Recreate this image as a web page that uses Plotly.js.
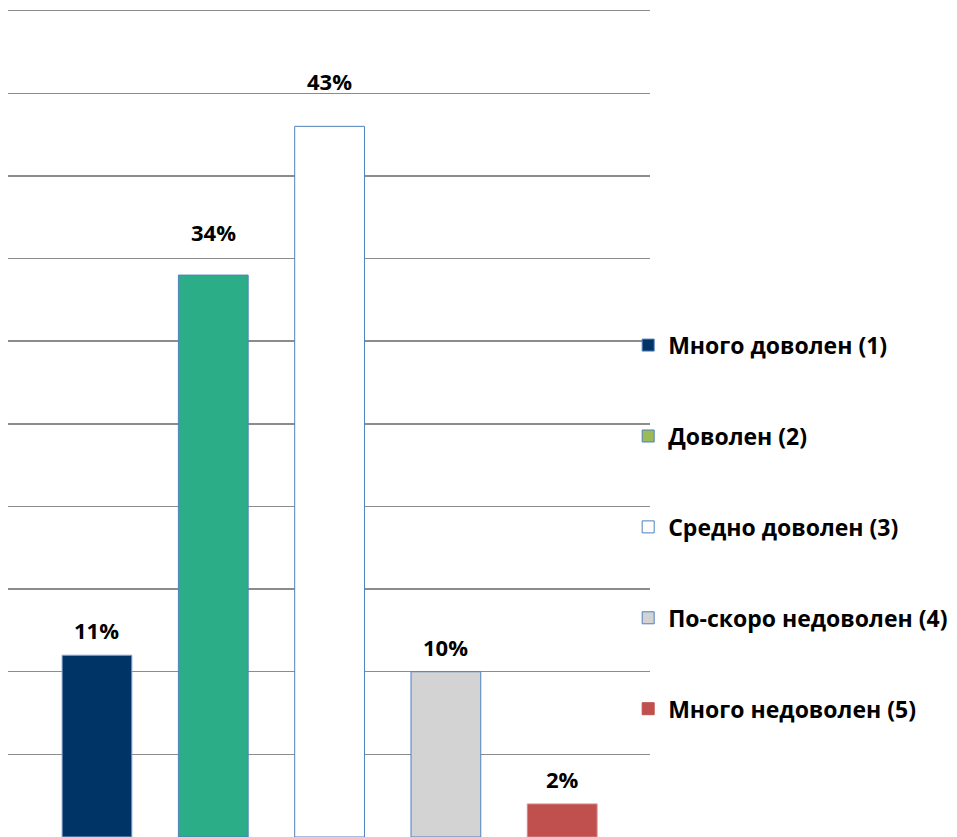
<!DOCTYPE html>
<html>
<head>
<meta charset="utf-8">
<script src="https://cdn.plot.ly/plotly-3.0.1.min.js"></script>
<style>
  html, body { margin: 0; padding: 0; background: #ffffff; }
  #chart { width: 957px; height: 837px; }
</style>
</head>
<body>
<div id="chart"></div>
<script>
// answers and their shares, in percent
const categories = [
  "Много доволен (1)",
  "Доволен (2)",
  "Средно доволен (3)",
  "По-скоро недоволен (4)",
  "Много недоволен (5)",
];
const shares = [11, 34, 43, 10, 2];
const labels = ["11%", "34%", "43%", "10%", "2%"];

// bar fills differ a little from the legend swatches in the original
const barColors = ["#003366", "#2bae87", "#ffffff", "#d3d3d3", "#c0504d"];
const barEdges = ["#8ea9d0", "#4f81bd", "#4f81bd", "#4f81bd", "#d9898a"];
const swatchColors = ["#003366", "#9bbb59", "#ffffff", "#d3d3d3", "#c0504d"];
const swatchEdges = ["#4f81bd", "#4f81bd", "#4f81bd", "#4f81bd", "#c0504d"];

const fontFamily = "'Open Sans', sans-serif";
const labelFont = { family: fontFamily, size: 22, color: "#000000", weight: 700 };

const traces = [];

traces.push({
  type: "bar",
  x: categories,
  y: shares,
  width: 0.6,
  marker: { color: barColors, line: { color: barEdges, width: 1 } },
  showlegend: false,
  hoverinfo: "skip",
});

// legend-only entries, so the swatches keep their own colours
categories.forEach((name, i) => {
  traces.push({
    type: "bar",
    x: [categories[0]],
    y: [null],
    name: name,
    legendgroup: "g" + i,
    marker: { color: swatchColors[i], line: { color: swatchEdges[i], width: 1 } },
  });
});

// the two tallest labels sit higher above their bars
const labelLift = [8, 26, 28, 8, 8];
const annotations = categories.map((c, i) => ({
  x: c,
  y: shares[i],
  xref: "x",
  yref: "y",
  text: labels[i],
  showarrow: false,
  yanchor: "bottom",
  yshift: labelLift[i],
  font: labelFont,
}));

const layout = {
  width: 957,
  height: 837,
  margin: { l: 8, r: 307, t: 9, b: 0 },
  paper_bgcolor: "#ffffff",
  plot_bgcolor: "#ffffff",
  barmode: "overlay",
  xaxis: {
    type: "category",
    range: [-0.765, 4.755],
    showticklabels: false,
    showgrid: false,
    zeroline: false,
    showline: false,
    ticks: "",
    fixedrange: true,
  },
  yaxis: {
    range: [0, 50.1],
    tickmode: "linear",
    tick0: 0,
    dtick: 5,
    showticklabels: false,
    showgrid: true,
    gridcolor: "#8c8c8c",
    gridwidth: 1.5,
    zeroline: false,
    showline: false,
    ticks: "",
    fixedrange: true,
  },
  showlegend: true,
  legend: {
    x: 0.966,
    xanchor: "left",
    y: 0.62,
    yanchor: "top",
    traceorder: "grouped",
    tracegroupgap: 58,
    font: { family: fontFamily, size: 23, color: "#000000", weight: 700 },
    bgcolor: "rgba(0,0,0,0)",
    itemclick: false,
  },
  annotations: annotations,
};

Plotly.newPlot("chart", traces, layout, { displayModeBar: false, staticPlot: true });
</script>
</body>
</html>
